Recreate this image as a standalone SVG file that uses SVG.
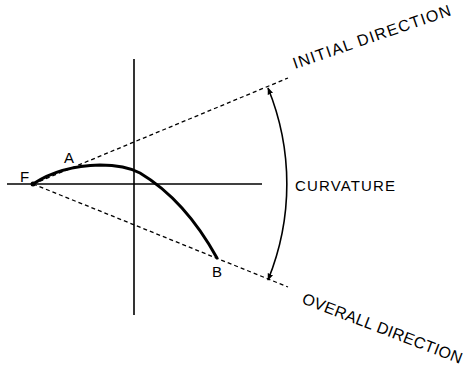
<svg xmlns="http://www.w3.org/2000/svg" width="467" height="370" viewBox="0 0 467 370">
<defs>
<style>
.axis{stroke:#000;stroke-width:1.6;fill:none}
.dash{stroke:#000;stroke-width:1.3;stroke-dasharray:4 3;fill:none}
.curve{stroke:#000;stroke-width:3;fill:none;stroke-linecap:round}
.arc{stroke:#000;stroke-width:1.6;fill:none}
.lbl{font-family:"Liberation Sans",Arial,sans-serif;font-size:15px;fill:#000}
.big{font-size:16px}
</style>
<marker id="ah" viewBox="0 0 10 10" refX="9" refY="5" markerWidth="7" markerHeight="7" markerUnits="userSpaceOnUse" orient="auto-start-reverse">
<path d="M0,1 L10,5 L0,9 Z" fill="#000"/>
</marker>
</defs>
<rect width="467" height="370" fill="#fff"/>
<g id="connectors">
<line class="axis" x1="7" y1="184" x2="262" y2="184"/>
<line class="axis" x1="134" y1="59" x2="134" y2="315" stroke-width="2"/>
<line class="dash" x1="33" y1="184" x2="288" y2="78"/>
<line class="dash" x1="33" y1="184" x2="288" y2="287"/>
<path class="arc" d="M268,88 A254,254 0 0 1 268,280" marker-start="url(#ah)" marker-end="url(#ah)"/>
</g>
<g id="path-FB">
<path class="curve" d="M33,184 Q60,166 100,165 Q125,165 140,173 Q185,200 217,258"/>
<circle cx="33" cy="184" r="2.5" fill="#000"/>
</g>
<g id="F"><text class="lbl" x="20" y="182">F</text></g>
<g id="A"><text class="lbl" x="64" y="163">A</text></g>
<g id="B"><text class="lbl" x="212" y="277" font-size="16">B</text></g>
<g id="curvature"><text class="lbl" x="295" y="191" textLength="100" lengthAdjust="spacing">CURVATURE</text></g>
<g id="initial"><text class="lbl big" x="0" y="0" transform="translate(295,69) rotate(-19)" textLength="166" lengthAdjust="spacing">INITIAL DIRECTION</text></g>
<g id="overall"><text class="lbl big" x="0" y="0" transform="translate(301,303) rotate(21)" textLength="170" lengthAdjust="spacing">OVERALL DIRECTION</text></g>
</svg>
